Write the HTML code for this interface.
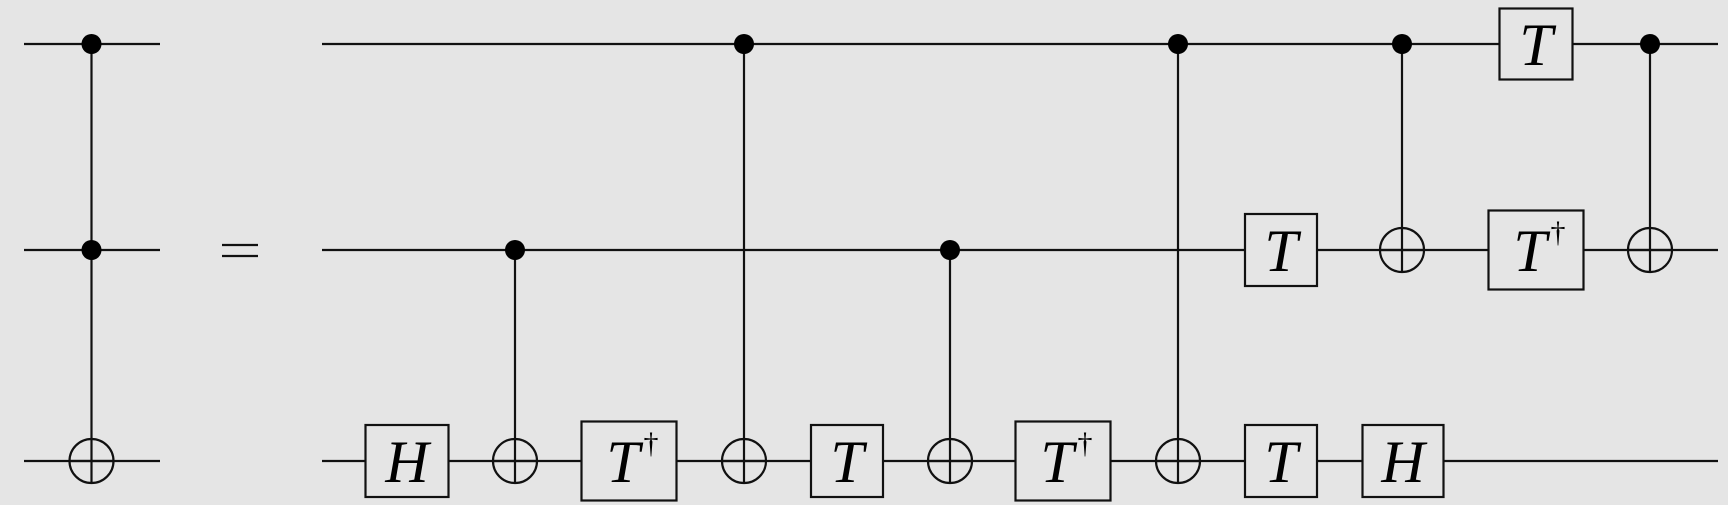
<!DOCTYPE html>
<html><head><meta charset="utf-8"><style>
html,body{margin:0;padding:0;background:#e5e5e5;}
svg{display:block;}
text{font-family:"Liberation Serif",serif;font-style:italic;fill:#000;}
</style></head><body>
<svg id="c" width="1728" height="505" viewBox="0 0 1728 505" xmlns="http://www.w3.org/2000/svg">
<rect width="1728" height="505" fill="#e5e5e5"/>
<g id="g" stroke="#111" stroke-width="2.2" fill="none"></g>
<g stroke="#111" stroke-width="2.2">
<line x1="222" x2="258" y1="245" y2="245"/>
<line x1="222" x2="258" y1="256" y2="256"/>
</g>
</svg>
<script>
const wireY=[44,250,461];
const NS="http://www.w3.org/2000/svg";
const g=document.getElementById('g');
const svg=document.getElementById('c');
function el(tag,attrs,name,parent){const e=document.createElementNS(NS,tag);for(const k in attrs)e.setAttribute(k,attrs[k]);


(parent||g).appendChild(e);return e;}
[0,1,2].forEach(i=>{el('line',{x1:24,x2:160,y1:wireY[i],y2:wireY[i]},'left-wire-'+i);
el('line',{x1:322,x2:1718,y1:wireY[i],y2:wireY[i]},'right-wire-'+i);});
const gates=[[407,2,'H',83,72],[629,2,'T†',95,79],[847,2,'T',72,72],[1063,2,'T†',95,79],[1281,2,'T',72,72],[1403,2,'H',81,72],
[1281,1,'T',72,72],[1536,1,'T†',95,79],[1536,0,'T',73,71]];
gates.forEach((gt,i)=>{const [x,w,l,bw,bh]=gt;const y=wireY[w];
el('rect',{x:x-bw/2,y:y-bh/2,width:bw,height:bh,fill:'#e5e5e5'},'gate-box-'+l+'-'+i);
let t;
if(l==='T†'){t=el('text',{x:x-6,y:y+21,'font-size':60,'text-anchor':'middle',stroke:'none'},'gate-label-'+i,svg);
t.textContent='T';const s=el('text',{x:x+22,y:y-8,'font-size':30,'text-anchor':'middle',stroke:'none',style:'font-style:normal'},'dagger-'+i,svg);s.textContent='†';}
else{t=el('text',{x:x,y:y+21,'font-size':60,'text-anchor':'middle',stroke:'none'},'gate-label-'+i,svg);t.textContent=l;}
});
const cgates=[[91.5,[0,1],2],[515,[1],2],[744,[0],2],[950,[1],2],[1178,[0],2],[1402,[0],1],[1650,[0],1]];
cgates.forEach((c,i)=>{const [x,ctr,tg]=c;const ty=wireY[tg];const r=22;
const ys=ctr.map(k=>wireY[k]);const top=Math.min(...ys);
el('line',{x1:x,x2:x,y1:top,y2:ty+r},'control-line-'+i);
ctr.forEach(k=>el('circle',{cx:x,cy:wireY[k],r:10,fill:'#000',stroke:'none'},'control-dot-'+i));
el('circle',{cx:x,cy:ty,r:r},'target-circle-'+i);
el('line',{x1:x-r,x2:x+r,y1:ty,y2:ty},'target-cross-'+i);
});
</script>
</body></html>
